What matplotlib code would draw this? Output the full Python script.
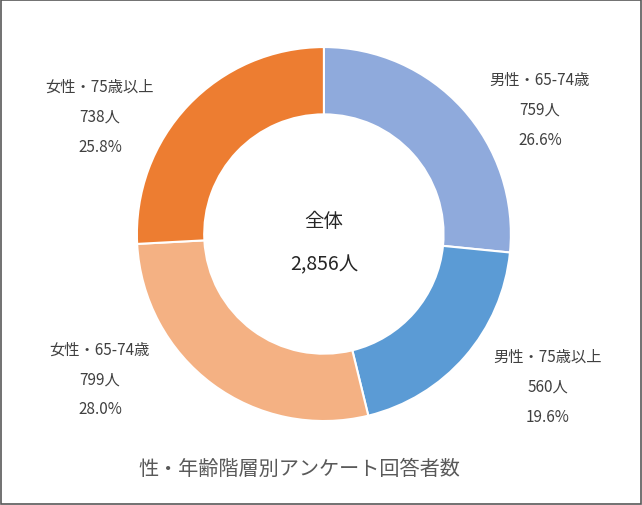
import matplotlib.pyplot as plt
from matplotlib.patches import Rectangle

plt.rcParams['font.family'] = 'Noto Sans CJK JP'

categories = ['男性・65-74歳', '男性・75歳以上', '女性・65-74歳', '女性・75歳以上']
counts = [759, 560, 799, 738]
shares = ['26.6%', '19.6%', '28.0%', '25.8%']
colors = ['#8faadc', '#5b9bd5', '#f4b183', '#ed7d31']
total = sum(counts)
title = '性・年齢階層別アンケート回答者数'

fig = plt.figure(figsize=(6.42, 5.06), dpi=100)
fig.patches.append(Rectangle((0.002, 0.002), 0.996, 0.996, transform=fig.transFigure,
                             fill=False, edgecolor='#595959', linewidth=1.2))

ax = fig.add_axes([0.155, 0.092, 0.699, 0.887])
ax.pie(counts, colors=colors, startangle=90, counterclock=False, radius=1,
       wedgeprops=dict(width=0.36, edgecolor='white', linewidth=1.5))
ax.set_xlim(-1.2, 1.2)
ax.set_ylim(-1.2, 1.2)
ax.set_aspect('equal')
ax.axis('off')

# label positions (data coords)
pos = [(1.155, 0.668), (1.198, -0.813), (-1.198, -0.775), (-1.198, 0.631)]
for (x, y), c, n, s in zip(pos, categories, counts, shares):
    ax.text(x, y, f'{c}\n{n}人\n{s}', ha='center', va='center', fontsize=11,
            color='#404040', linespacing=2.0, clip_on=False)

ax.text(0, 0.07, '全体', ha='center', va='center', fontsize=14, color='#262626')
ax.text(0, -0.16, f'{total:,}人', ha='center', va='center', fontsize=14, color='#262626')

fig.text(0.467, 0.072, title, ha='center', va='center', fontsize=14.5, color='#595959')

fig.savefig('out.png', dpi=100)
